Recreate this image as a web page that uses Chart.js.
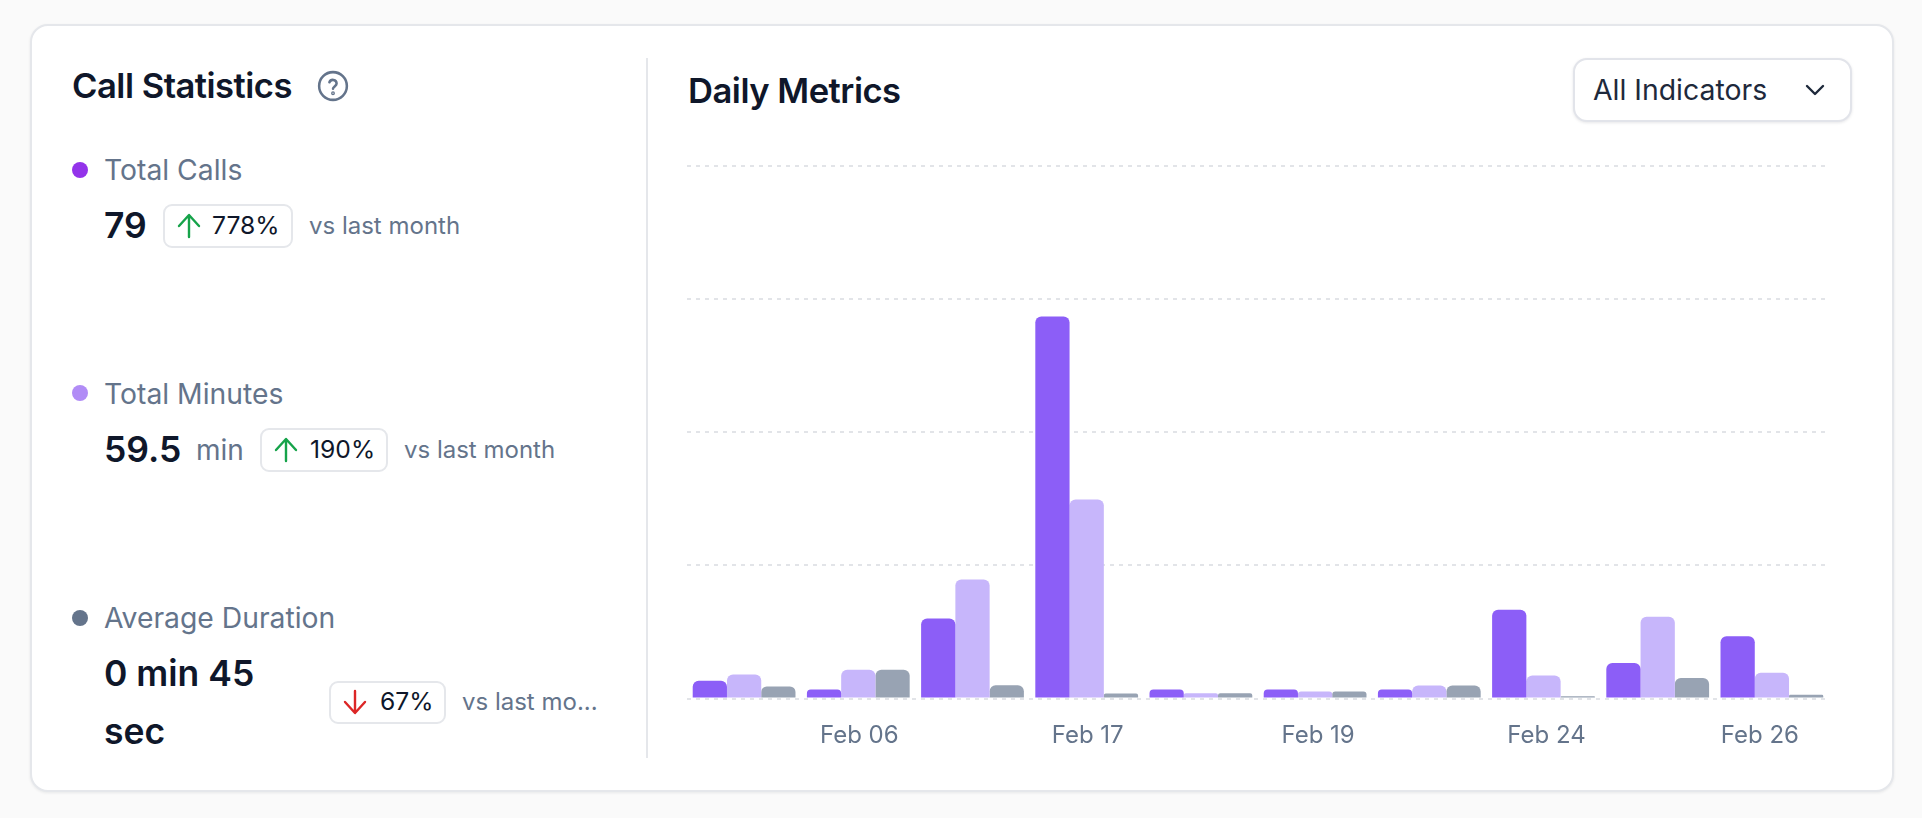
<!DOCTYPE html>
<html lang="en">
<head>
<meta charset="utf-8">
<title>Call Statistics</title>
<script src="https://cdn.jsdelivr.net/npm/chart.js@4"></script>
<style>
  html, body { margin: 0; padding: 0; background: #fafafa; width: 1922px; height: 818px; overflow: hidden; font-family: Inter, "Noto Sans", sans-serif; }
  .abs { position: absolute; white-space: nowrap; line-height: 1; }
  .card { position: absolute; left: 30px; top: 24px; width: 1860px; height: 764px; background: #fff; border: 2px solid #e5e7eb; border-radius: 18px; box-shadow: 0 1px 3px rgba(15,23,42,.08); }
  .divider { position: absolute; left: 646px; top: 58px; width: 2px; height: 700px; background: #e5e7eb; }
  .title { font-size: 34.6px; font-weight: 600; color: #0f172a; letter-spacing: -0.5px; }
  .dot { position: absolute; width: 16px; height: 16px; border-radius: 50%; }
  .metric { font-size: 28.3px; color: #64748b; }
  .value { font-size: 35.5px; font-weight: 600; color: #0f172a; }
  .unit { font-size: 28px; color: #64748b; }
  .note { font-size: 24px; color: #64748b; }
  .badge { position: absolute; box-sizing: border-box; background: #fff; border: 2px solid #e5e7eb; border-radius: 9px; }
  .pct { font-size: 24.7px; color: #0f172a; }
  .select { position: absolute; box-sizing: border-box; left: 1573px; top: 58px; width: 279px; height: 64px; background: #fff; border: 2px solid #e2e4ea; border-radius: 14px; box-shadow: 0 1px 3px rgba(15,23,42,.1); }
  #chartBox { position: absolute; left: 687px; top: 155px; width: 1142px; height: 603px; }
</style>
</head>
<body>
<div class="card"></div>
<div class="divider"></div>

<div class="abs title" style="left:72px;top:68px">Call Statistics</div>
<svg class="abs" style="left:317px;top:70px" width="32" height="32" viewBox="0 0 24 24" fill="none" stroke="#64748b" stroke-width="1.9" stroke-linecap="round" stroke-linejoin="round"><circle cx="12" cy="12" r="10.4"/><path d="M9.3 9.2a2.8 2.8 0 0 1 5.4 1c0 1.9-2.7 2.4-2.7 3.9"/><circle cx="12" cy="17.4" r=".5"/></svg>

<div class="dot" style="left:72px;top:162px;background:#9333ea"></div>
<div class="abs metric" style="left:104px;top:156px">Total Calls</div>
<div class="abs value" style="left:104px;top:208px">79</div>
<div class="badge" style="left:163px;top:204px;width:130px;height:44px"></div>
<svg class="abs" style="left:176px;top:211px" width="26" height="30" viewBox="0 0 26 30" fill="none" stroke="#16a34a" stroke-width="2.4" stroke-linecap="round" stroke-linejoin="round"><path d="M13 26V5M3 15 13 4l10 11"/></svg>
<div class="abs pct" style="left:212px;top:213px">778%</div>
<div class="abs note" style="left:309px;top:214px">vs last month</div>

<div class="dot" style="left:72px;top:385px;background:#b18cf6"></div>
<div class="abs metric" style="left:104px;top:380px">Total Minutes</div>
<div class="abs value" style="left:104px;top:432px">59.5</div>
<div class="abs unit" style="left:196px;top:436px">min</div>
<div class="badge" style="left:260px;top:428px;width:128px;height:44px"></div>
<svg class="abs" style="left:273px;top:435px" width="26" height="30" viewBox="0 0 26 30" fill="none" stroke="#16a34a" stroke-width="2.4" stroke-linecap="round" stroke-linejoin="round"><path d="M13 26V5M3 15 13 4l10 11"/></svg>
<div class="abs pct" style="left:310px;top:437px">190%</div>
<div class="abs note" style="left:404px;top:438px">vs last month</div>

<div class="dot" style="left:72px;top:610px;background:#64748b"></div>
<div class="abs metric" style="left:104px;top:604px">Average Duration</div>
<div class="abs value" style="left:104px;top:656px">0 min 45</div>
<div class="abs value" style="left:104px;top:714px">sec</div>
<div class="badge" style="left:329px;top:681px;width:117px;height:43px"></div>
<svg class="abs" style="left:342px;top:687px" width="26" height="30" viewBox="0 0 26 30" fill="none" stroke="#dc2626" stroke-width="2.4" stroke-linecap="round" stroke-linejoin="round"><path d="M13 4v21M3 15l10 11 10-11"/></svg>
<div class="abs pct" style="left:380px;top:689px">67%</div>
<div class="abs note" style="left:462px;top:690px">vs last mo...</div>

<div class="abs title" style="left:688px;top:73px">Daily Metrics</div>
<div class="select"></div>
<div class="abs" style="left:1593px;top:76px;font-size:28.4px;color:#1e293b">All Indicators</div>
<svg class="abs" style="left:1802px;top:81px" width="26" height="18" viewBox="0 0 26 18" fill="none" stroke="#1e293b" stroke-width="2.4" stroke-linecap="round" stroke-linejoin="round"><path d="M5 5l8 8 8-8"/></svg>

<div id="chartBox"><canvas id="metrics"></canvas></div>

<script>
// Only every second day carries a visible label on the axis.
const tickLabels = ['', 'Feb 06', '', 'Feb 17', '', 'Feb 19', '', 'Feb 24', '', 'Feb 26'];
const totalCalls = [2, 1, 9, 43, 1, 1, 1, 10, 4, 7];
const totalMinutes = [2.7, 3.25, 13.4, 22.4, 0.6, 0.8, 1.45, 2.6, 9.2, 2.9];
const averageDuration = [1.35, 3.25, 1.5, 0.55, 0.6, 0.8, 1.45, 0.26, 2.3, 0.41];
const yTicks = [0, 15, 30, 45, 60];
// Horizontal nudges applied to individual axis labels.
const labelNudges = [0, 1, 0, 1, 0, 3, 0, 3, 0, -12];

const nudgeLabels = {
  id: 'nudgeLabels',
  beforeDraw(chart) {
    const x = chart.scales.x;
    const items = x.getLabelItems(chart.chartArea);
    items.forEach((item, i) => {
      item.options.translation[0] = x.getPixelForTick(i) + labelNudges[i];
    });
  }
};

const roundedTop = { topLeft: 6, topRight: 6, bottomLeft: 0, bottomRight: 0 };
const series = (label, data, color) => ({
  label, data, backgroundColor: color, borderWidth: 0, borderSkipped: false, borderRadius: roundedTop,
  categoryPercentage: 0.9, barPercentage: 1
});

new Chart(document.getElementById('metrics'), {
  type: 'bar',
  data: {
    labels: tickLabels,
    datasets: [
      series('Total Calls', totalCalls, '#8c5ef7'),
      series('Total Minutes', totalMinutes, '#c7b6fb'),
      series('Average Duration', averageDuration, '#98a3b3')
    ]
  },
  plugins: [nudgeLabels],
  options: {
    responsive: true,
    maintainAspectRatio: false,
    animation: false,
    layout: { padding: { top: 10.5, left: 0, right: 0, bottom: 0 } },
    plugins: { legend: { display: false }, tooltip: { enabled: false } },
    scales: {
      x: {
        grid: { display: false },
        border: { display: false },
        afterFit(scale) { scale.height = 59.5; },
        ticks: {
          autoSkip: false, maxRotation: 0, padding: 15,
          color: '#64748b',
          font: { family: 'Inter', size: 24 }
        }
      },
      y: {
        display: true,
        min: yTicks[0],
        max: yTicks[yTicks.length - 1],
        afterFit(scale) { scale.width = 0; },
        afterBuildTicks(scale) { scale.ticks = yTicks.map(value => ({ value })); },
        ticks: { display: false },
        border: { display: false, dash: [4, 5] },
        grid: { color: '#e2e4e8', lineWidth: 2, drawTicks: false, tickLength: 0 }
      }
    }
  }
});
</script>
</body>
</html>
